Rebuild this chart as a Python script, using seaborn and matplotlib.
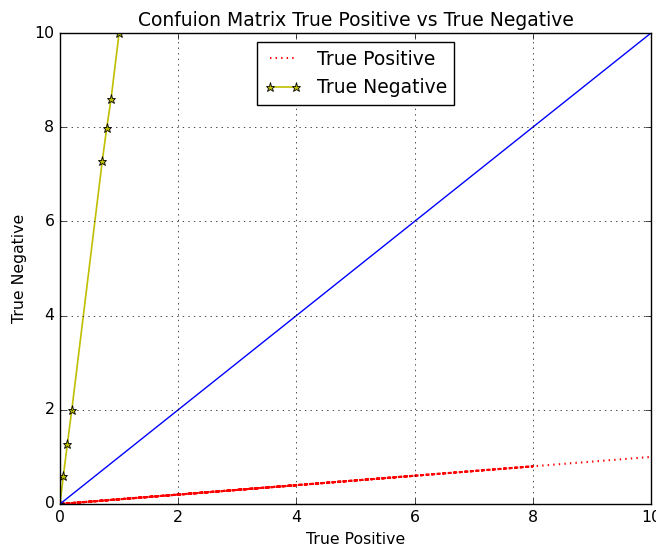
import matplotlib
matplotlib.use("Agg")
import matplotlib.pyplot as plt
import seaborn as sns

# values
tp_x = [0, 8, 0, 6, 0, 8, 0, 4, 0, 10]
tp_y = [0, 0.8, 0, 0.6, 0, 0.8, 0, 0.4, 0, 1.0]

tn_x = [0, 0.056, 0.124, 0.2, 0.716, 0.79, 0.863, 1.0]
tn_y = [0, 0.59, 1.27, 2.0, 7.29, 7.98, 8.59, 10]

ref_x = [0, 10]
ref_y = [0, 10]

plt.style.use('classic')
plt.rcParams['font.size'] = 11.3

fig = plt.figure(figsize=(6.56, 5.52), dpi=100, facecolor='white')
ax = fig.add_axes([60 / 656, 48 / 552, 591 / 656, 471 / 552])

sns.lineplot(x=tp_x, y=tp_y, ax=ax, sort=False, estimator=None,
             color='r', linestyle=':', linewidth=1.5, label='True Positive')
sns.lineplot(x=tn_x, y=tn_y, ax=ax, sort=False, estimator=None,
             color='y', marker='*', markersize=6.5, markeredgecolor='k',
             markeredgewidth=0.6, markerfacecolor='y', linewidth=1.2,
             label='True Negative')
sns.lineplot(x=ref_x, y=ref_y, ax=ax, sort=False, estimator=None,
             color='b', legend=False)

ax.set_xlim(0, 10)
ax.set_ylim(0, 10)
ax.set_xticks([0, 2, 4, 6, 8, 10])
ax.set_yticks([0, 2, 4, 6, 8, 10])
ax.grid(True)
ax.set_title("Confuion Matrix True Positive vs True Negative", fontsize=13.5)
ax.set_xlabel("True Positive", fontsize=11.3)
ax.set_ylabel("True Negative", fontsize=11.3)
ax.legend(loc='upper center', numpoints=2, fontsize=13.5)

plt.savefig("out.png", dpi=100, facecolor='white')
plt.close()
